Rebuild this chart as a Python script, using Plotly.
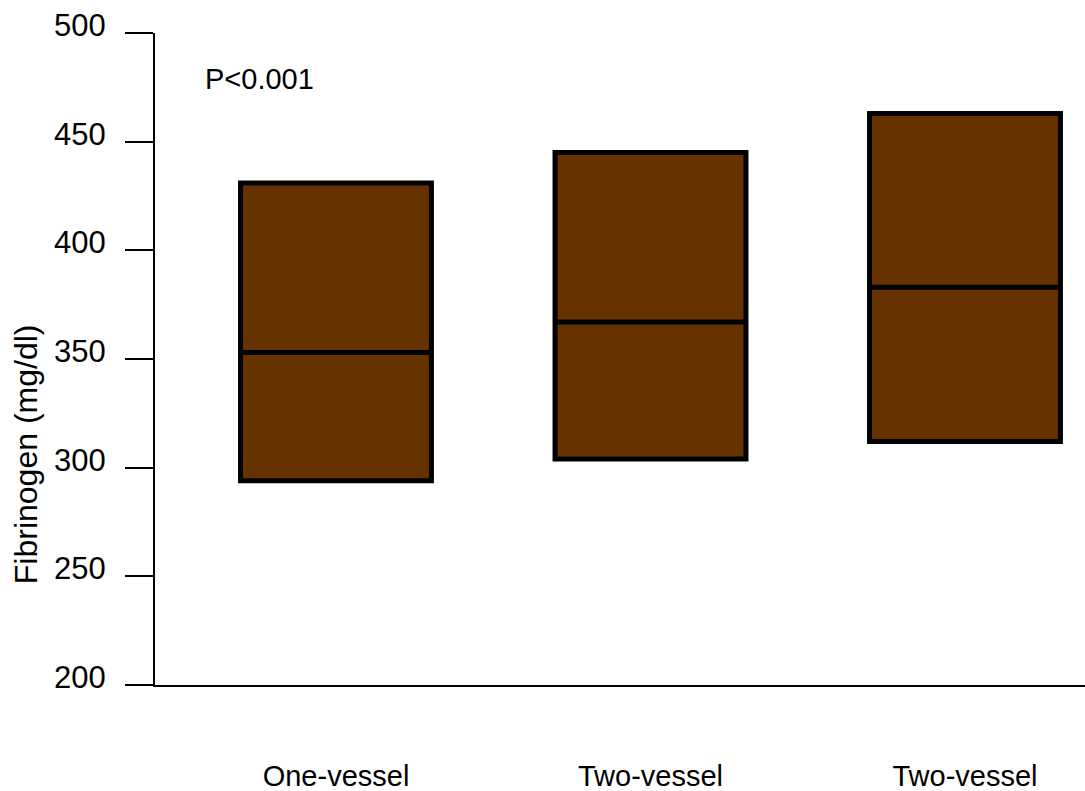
import plotly.graph_objects as go

# Fibrinogen distribution by extent of coronary disease
groups = ["One-vessel", "Two-vessel", "Two-vessel"]
q1 = [294, 304, 312]
median = [353, 367, 383]
q3 = [431, 445, 463]
y_ticks = [200, 250, 300, 350, 400, 450, 500]

FONT = "Liberation Sans, Arial, sans-serif"
positions = list(range(len(groups)))

fig = go.Figure()
fig.add_trace(go.Box(
    x=positions,
    q1=q1,
    median=median,
    q3=q3,
    lowerfence=q1,
    upperfence=q3,
    width=0.607,
    whiskerwidth=0,
    boxpoints=False,
    fillcolor="#663300",
    line=dict(color="black", width=5),
    showlegend=False,
    hoverinfo="skip",
))

fig.update_layout(
    width=1085,
    height=791,
    margin=dict(l=155, r=0, t=33, b=106),
    paper_bgcolor="white",
    plot_bgcolor="white",
    font=dict(family=FONT, size=30, color="black"),
    xaxis=dict(
        range=[-0.5755, 2.3816],
        tickmode="array",
        tickvals=positions,
        ticktext=groups,
        ticks="",
        showline=True,
        linecolor="black",
        linewidth=2,
        showgrid=False,
        zeroline=False,
        automargin=False,
        ticklabelstandoff=64,
        tickfont=dict(size=29),
    ),
    yaxis=dict(
        range=[200, 500],
        tickmode="array",
        tickvals=y_ticks,
        ticktext=[str(v) for v in y_ticks],
        ticks="outside",
        ticklen=28,
        tickwidth=2,
        tickcolor="black",
        showline=True,
        linecolor="black",
        linewidth=2,
        showgrid=False,
        zeroline=False,
        automargin=False,
        ticklabelshift=-8,
        ticklabelstandoff=13,
        tickfont=dict(size=31),
    ),
    annotations=[
        dict(
            text="Fibrinogen (mg/dl)",
            xref="paper", yref="paper",
            x=-0.1387, y=0.354,
            xanchor="center", yanchor="middle",
            textangle=-90,
            showarrow=False,
            font=dict(size=32),
        ),
        dict(
            text="P<0.001",
            xref="paper", yref="paper",
            x=0.0516, y=0.930,
            xanchor="left", yanchor="middle",
            showarrow=False,
            font=dict(size=29),
        ),
    ],
)

fig.write_html("out.html")
